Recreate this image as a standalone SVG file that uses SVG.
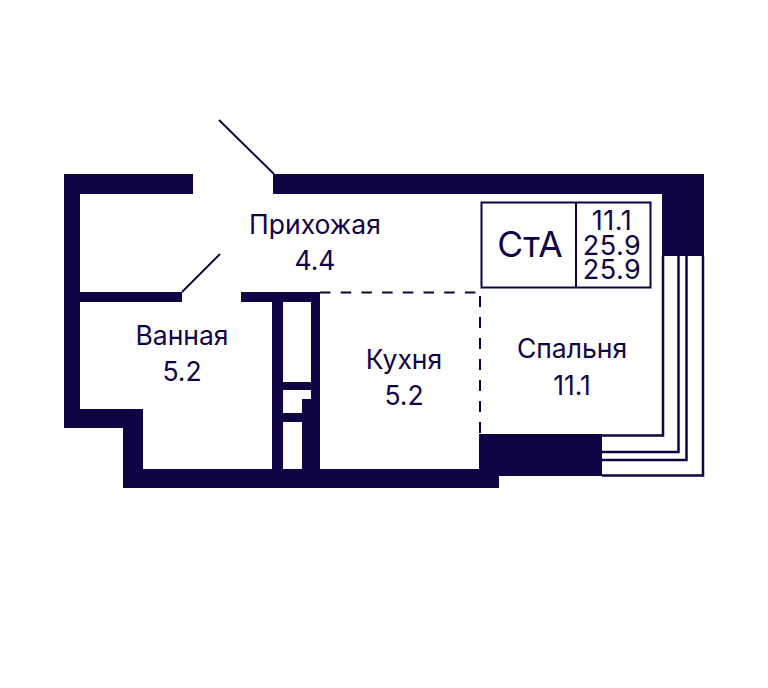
<svg xmlns="http://www.w3.org/2000/svg" width="768" height="688" viewBox="0 0 768 688">
<style>
.w{fill:#100445}
.l{fill:none;stroke:#100445;stroke-width:2}
.o{fill:none;stroke:#100445;stroke-width:2.5}
.d{fill:none;stroke:#100445;stroke-width:2;stroke-dasharray:10.500 10.200}
text{font-family:"Inter","Liberation Sans",sans-serif;fill:#100445;text-anchor:middle}
.r{font-size:26.500px}
.n{font-size:27px;letter-spacing:.5px}
</style>
<rect width="768" height="688" fill="#fff"/>
<g id="walls">
<path class="w" d="M64 174H193V194H80V292H182V302H80V409H143V469H272V302H241V292H320V469H479V434H602V476H499V488H123V428H64Z"/>
<path class="w" d="M273 174H704V256H662V194H273Z"/>
</g>
<g id="shaft">
<path fill="#fff" d="M283 302H311V382H283ZM283 390H311V399H302V413H283ZM283 422H302V469H283Z"/>
</g>
<g id="connectors">
<path class="l" d="M219 120L274 174M182 292L220 254"/>
<path class="d" d="M320 292.500H476"/>
<path class="d" style="stroke-dasharray:11 10" d="M480 296V434"/>
</g>
<g id="balcony">
<path class="o" d="M663 256V435.500H602M678.500 256V452H602M686.500 256V460H602M703 256V475.500H602"/>
</g>
<g id="label-box">
<rect class="l" x="481.500" y="202.500" width="169" height="85"/>
<path class="l" d="M576 202.500V287.500"/>
<text x="530" y="257" style="font-size:35.500px">СтА</text>
<text class="n" x="612" y="230">11.1</text>
<text class="n" x="612" y="255">25.9</text>
<text class="n" x="612" y="279">25.9</text>
</g>
<g id="room-hall"><text class="r" x="315" y="234">Прихожая</text><text class="r" x="315" y="270">4.4</text></g>
<g id="room-bath"><text class="r" x="182" y="345">Ванная</text><text class="r" x="182" y="381">5.2</text></g>
<g id="room-kitchen"><text class="r" x="404" y="369">Кухня</text><text class="r" x="404" y="405">5.2</text></g>
<g id="room-bedroom"><text class="r" x="572" y="358">Спальня</text><text class="r" x="572" y="395">11.1</text></g>
</svg>
